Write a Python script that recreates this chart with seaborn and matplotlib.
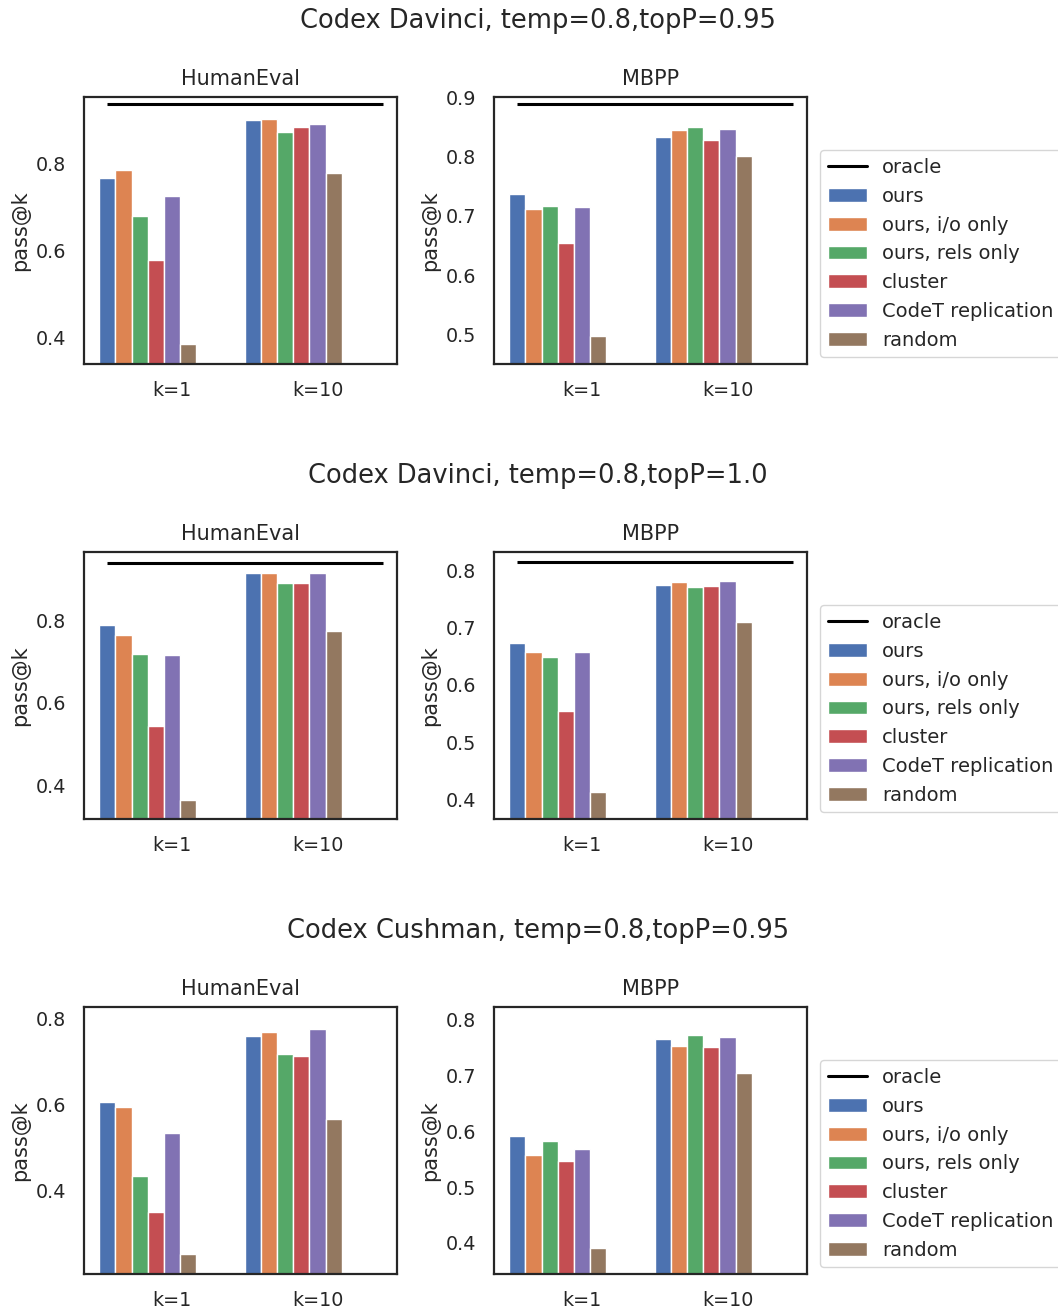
import numpy as np
import pandas as pd
import matplotlib
matplotlib.use('Agg')
import matplotlib.pyplot as plt
from matplotlib.lines import Line2D
from matplotlib.patches import Patch
from matplotlib.ticker import MultipleLocator
import seaborn as sns

methods = ['ours', 'ours, i/o only', 'ours, rels only', 'cluster', 'CodeT replication', 'random']
ks = ['k=1', 'k=10']

row_titles = ['Codex Davinci, temp=0.8,topP=0.95',
              'Codex Davinci, temp=0.8,topP=1.0',
              'Codex Cushman, temp=0.8,topP=0.95']

# pass@k values, one list per (row, dataset, k)
he_k1 = [[0.766, 0.785, 0.678, 0.578, 0.725, 0.385],
         [0.789, 0.764, 0.718, 0.543, 0.717, 0.366],
         [0.607, 0.594, 0.435, 0.352, 0.534, 0.254]]
he_k10 = [[0.898, 0.902, 0.872, 0.884, 0.891, 0.778],
          [0.915, 0.913, 0.889, 0.891, 0.913, 0.773],
          [0.760, 0.770, 0.719, 0.713, 0.777, 0.567]]
mbpp_k1 = [[0.737, 0.711, 0.717, 0.655, 0.715, 0.497],
           [0.673, 0.657, 0.648, 0.555, 0.658, 0.413],
           [0.592, 0.558, 0.583, 0.547, 0.569, 0.391]]
mbpp_k10 = [[0.833, 0.846, 0.851, 0.829, 0.847, 0.802],
            [0.774, 0.779, 0.771, 0.772, 0.782, 0.710],
            [0.765, 0.753, 0.773, 0.751, 0.769, 0.705]]
he_oracle = [0.937, 0.939, None]
mbpp_oracle = [0.889, 0.814, None]

sns.set_theme(style='white', font_scale=1.25)
colors = sns.color_palette('deep', len(methods))

W, H = 1058, 1310
fig = plt.figure(figsize=(W / 100, H / 100), dpi=100)


def make_df(k1, k10):
    return pd.DataFrame({
        'k': [ks[0]] * len(methods) + [ks[1]] * len(methods),
        'method': methods + methods,
        'value': k1 + k10,
    })


def draw_panel(ax, k1, k10, oracle, title, step):
    df = make_df(k1, k10)
    sns.barplot(data=df, x='k', y='value', hue='method', order=ks,
                hue_order=methods, palette=colors, width=2 / 3,
                saturation=1, ax=ax, legend=False)
    ticks = [1 / 6, 7 / 6]
    if oracle is not None:
        ax.hlines(oracle, ticks[0] - 0.45, ticks[1] + 0.45, color='black', lw=2.2)
    ax.set_xticks(ticks)
    ax.set_xticklabels(ks)
    ax.set_xlim(ticks[0] - 0.605, ticks[1] + 0.546)
    vals = k1 + k10
    ax.set_ylim(min(vals) - 0.047, max(vals) + 0.05)
    ax.yaxis.set_major_locator(MultipleLocator(step))
    ax.tick_params(axis='x', pad=6.3)
    ax.tick_params(axis='y', pad=7)
    ax.set_xlabel('')
    ax.set_ylabel('pass@k')
    ax.set_title(title, pad=8.5)
    for s in ax.spines.values():
        s.set_color('.15')
        s.set_linewidth(1.6)


handles = [Line2D([0], [0], color='black', lw=2.2)] + \
          [Patch(facecolor=c) for c in colors]
labels = ['oracle'] + methods

for r in range(3):
    top = 97 + 455 * r
    bottom = 1 - (top + 267) / H
    ax1 = fig.add_axes([84 / W, bottom, 313 / W, 267 / H])
    ax2 = fig.add_axes([494 / W, bottom, 313 / W, 267 / H])
    draw_panel(ax1, he_k1[r], he_k10[r], he_oracle[r], 'HumanEval', 0.2)
    draw_panel(ax2, mbpp_k1[r], mbpp_k10[r], mbpp_oracle[r], 'MBPP', 0.1)
    ax2.legend(handles, labels, loc='upper left', bbox_to_anchor=(1.042, 0.80),
               borderaxespad=0, fontsize=14)
    fig.text(538 / W, 1 - (21 + 455 * r) / H, row_titles[r], ha='center', va='center',
             fontsize=18.5)

fig.savefig('out.png', dpi=100)
